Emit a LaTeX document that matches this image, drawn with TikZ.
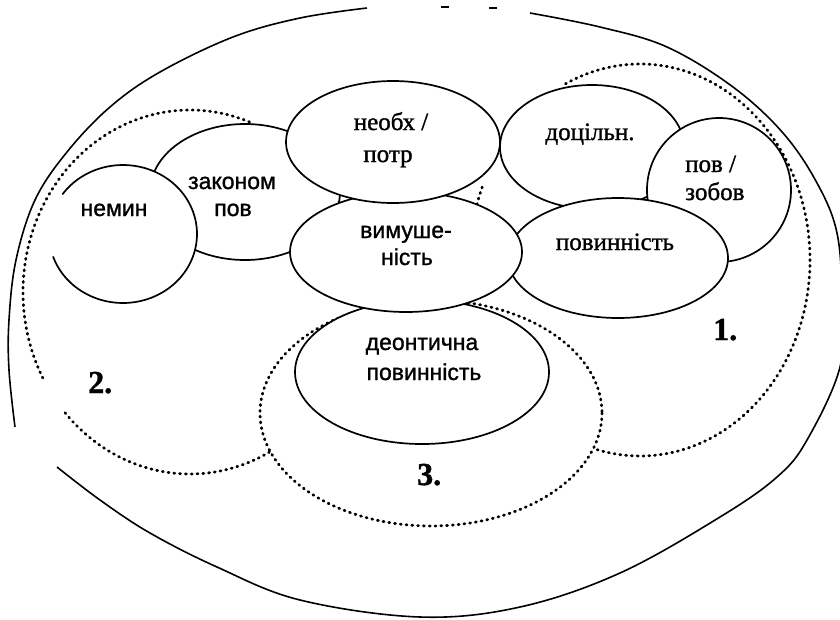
\documentclass[tikz,border=0pt]{standalone}
\usepackage{fontspec}
\setmainfont[FakeBold=1.2]{Liberation Serif}
\newfontfamily\lsans[FakeBold=1.2]{Liberation Sans}
\usetikzlibrary{shapes.geometric}
\begin{document}
\begin{tikzpicture}[x=1pt,y=-1pt,
  blob/.style={ellipse, draw=black, line width=1.7pt, fill=white, inner sep=0pt, outer sep=0pt},
  blobfill/.style={ellipse, draw=none, fill=white, inner sep=0pt, outer sep=0pt},
  dotline/.style={line width=2.8pt, line cap=round, dash pattern=on 1pt off 4.8pt},
  outerline/.style={line width=1.6pt},
  lblserif/.style={font=\fontsize{25}{30}\selectfont, inner sep=0pt, anchor=base},
  lblsans/.style={font=\lsans\fontsize{23}{28}\selectfont, inner sep=0pt, anchor=base},
  num/.style={font=\bfseries\fontsize{32}{36}\selectfont, inner sep=0pt, anchor=base west},
]
\useasboundingbox (0,0) rectangle (840,619);
\fill[white] (0,0) rectangle (840,619);

% outer boundary
\draw[outerline] plot[smooth, tension=0.6] coordinates {(530,13) (600,27) (667,47) (733,87) (783,133) (817,183) (837,233) (842,300) (840,367) (807,440) (777,477) (720,517) (620,573) (520,607) (420,617) (300,600) (217,567) (150,533) (100,500) (57,467)};
\draw[outerline] plot[smooth, tension=0.6] coordinates {(15,427) (9,370) (9,320) (16,260) (35,200) (67,152) (110,107) (160,72) (233,37) (300,18) (367,8)};
\draw[outerline] (441,7) -- (449,7);
\draw[outerline] (489,8) -- (497,8);

% dotted regions
\draw[dotline] plot[domain=244:466, samples=150] ({640+170*cos(\x)},{260+196*sin(\x)});
\draw[dotline] plot[domain=193:203, samples=10] ({640+170*cos(\x)},{260+196*sin(\x)});
\draw[dotline] plot[domain=151.8:292, samples=120] ({190+167*cos(\x)},{292+182*sin(\x)});
\draw[dotline] plot[domain=61.6:138.8, samples=60] ({190+167*cos(\x)},{292+182*sin(\x)});
\draw[dotline] plot[domain=0:360, samples=200] ({431+171*cos(\x)},{413+113*sin(\x)});

% concept ellipses
\node[blob, minimum width=190pt, minimum height=136pt] (zakon) at (245,192) {};
\node[blobfill, minimum width=148pt, minimum height=138pt] (nemin) at (123,234) {};
\draw[blob] plot[domain=215:521, samples=120] ({123+74*cos(\x)},{234+69*sin(\x)});
\node[blob, minimum width=254pt, minimum height=144pt] (deon) at (422,372) {};
\node[blob, minimum width=184pt, minimum height=124pt] (docil) at (592,147) {};
\node[blob, minimum width=144pt, minimum height=144pt] (povzob) at (719,190) {};
\node[blob, minimum width=220pt, minimum height=120pt] (povyn) at (618,258) {};
\node[blob, minimum width=232pt, minimum height=120pt] (vymush) at (406,252) {};
\node[blob, minimum width=214pt, minimum height=122pt] (neobh) at (393,142) {};

% labels
\node[lblsans] (tnemin) at (114,216) {немин};
\node[lblsans] (tzak1) at (232,189) {законом};
\node[lblsans] (tzak2) at (233,216) {пов};
\node[lblserif] (tneo1) at (391,130) {необх /};
\node[lblserif] (tneo2) at (388,162) {потр};
\node[lblsans] (tvym1) at (406,238) {вимуше-};
\node[lblsans] (tvym2) at (407,265) {ність};
\node[lblsans] (tdeo1) at (422,350) {деонтична};
\node[lblsans] (tdeo2) at (424,380) {повинність};
\node[lblserif] (tdoc) at (590,140) {доцільн.};
\node[lblserif, anchor=base west] (tpov1) at (685,172) {пов /};
\node[lblserif, anchor=base west] (tpov2) at (685,200) {зобов};
\node[lblserif] (tpovyn) at (615,250) {повинність};
\node[num] (n1) at (713,340) {1.};
\node[num] (n2) at (88,393) {2.};
\node[num] (n3) at (417,485) {3.};
\end{tikzpicture}
\end{document}
